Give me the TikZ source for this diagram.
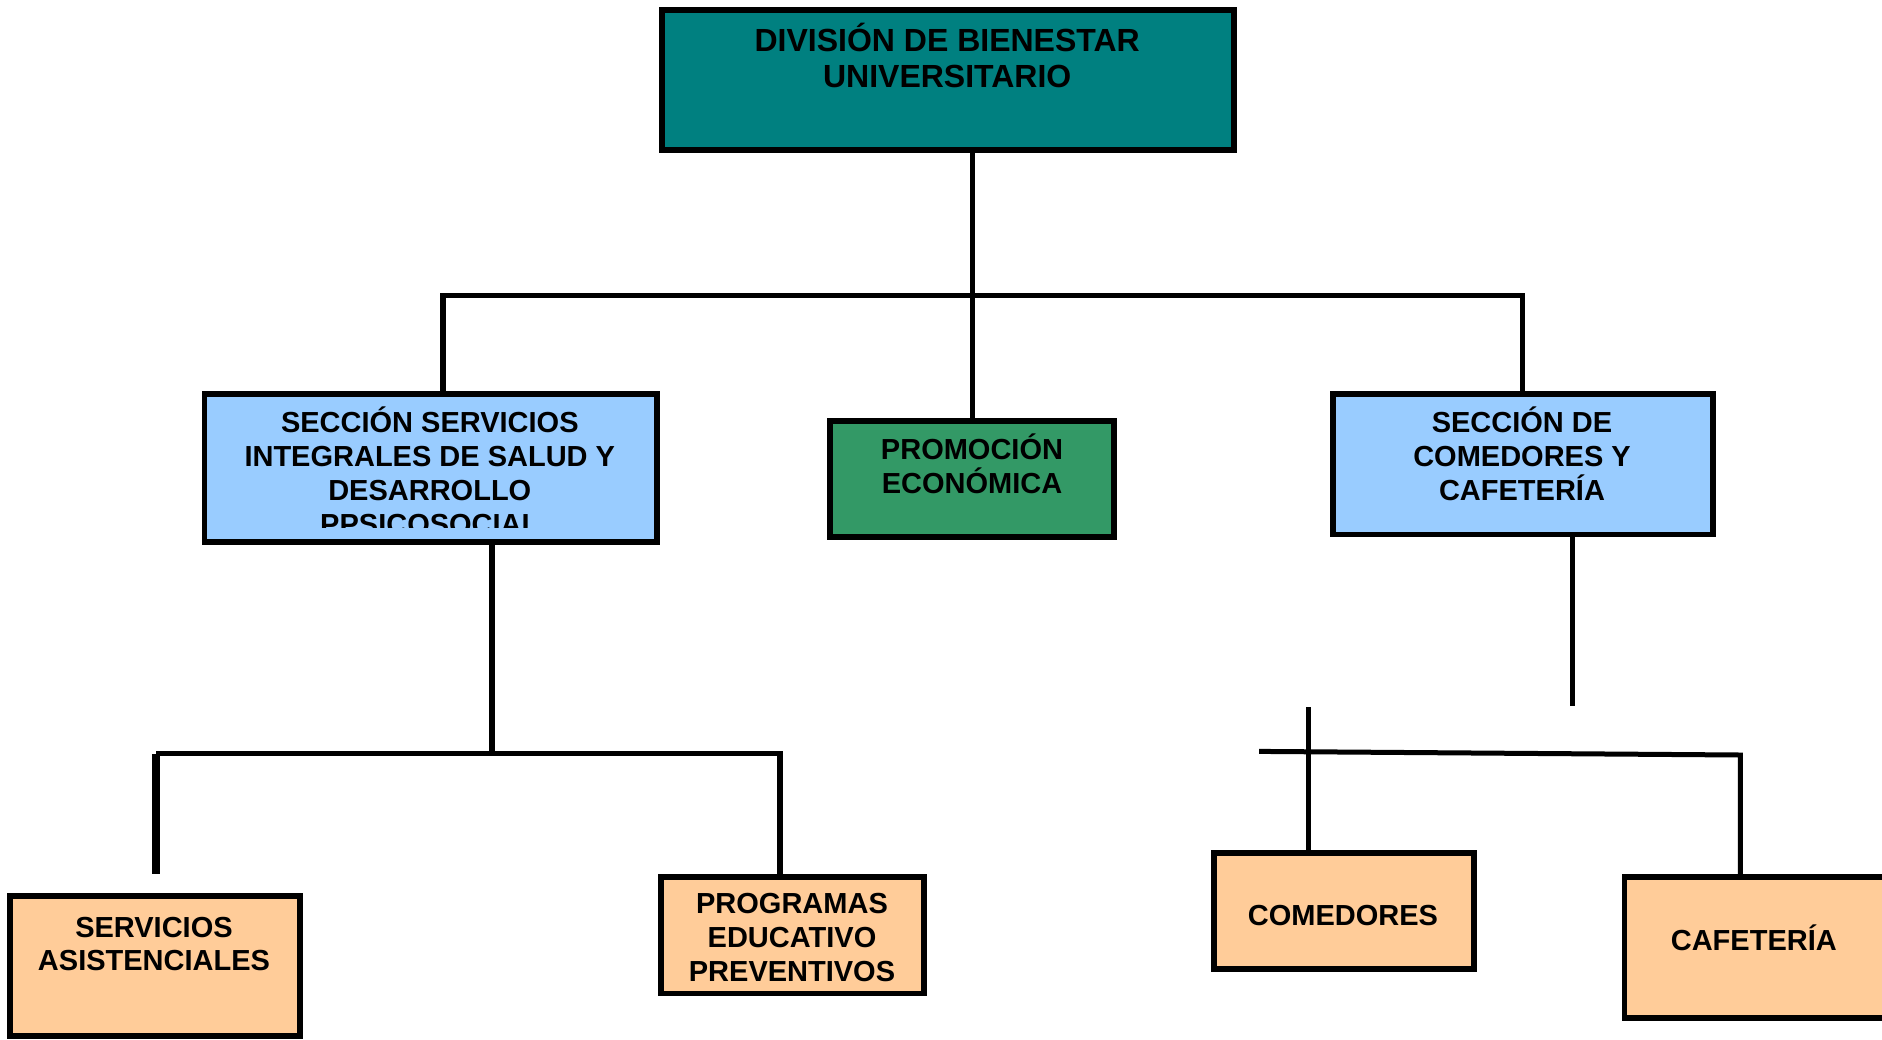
\documentclass[tikz,border=0pt]{standalone}
\usepackage{fontspec}
\setmainfont{Liberation Sans}
\definecolor{tealbox}{RGB}{0,128,128}
\definecolor{bluebox}{RGB}{153,204,255}
\definecolor{greenbox}{RGB}{51,153,102}
\definecolor{orangebox}{RGB}{255,204,153}
\begin{document}
\begin{tikzpicture}[x=1pt,y=-1pt,
  box/.style={draw=black, line width=2.9pt, anchor=north west, inner sep=0pt},
  txt/.style={align=center, inner sep=0pt, anchor=north, text=black,
              font=\bfseries\fontsize{14.5}{17}\selectfont},
  conn/.style={draw=black, line width=2.6pt},
  thinconn/.style={draw=black, line width=2.5pt},
  thickconn/.style={draw=black, line width=4pt}]
\useasboundingbox (0,0) rectangle (941,519.5);

% boxes
\node[box, fill=tealbox, minimum width=286pt, minimum height=70.1pt] (top) at (329.5,3.6) {};
\node[box, fill=bluebox, minimum width=226.2pt, minimum height=73.7pt] (sec1) at (100.8,195.7) {};
\node[box, fill=greenbox, minimum width=142.2pt, minimum height=58.1pt] (promo) at (413.5,208.9) {};
\node[box, fill=bluebox, minimum width=190.1pt, minimum height=70.1pt] (sec2) at (665,195.7) {};
\node[box, fill=orangebox, minimum width=145pt, minimum height=70pt] (serv) at (3.5,446.5) {};
\node[box, fill=orangebox, minimum width=131.5pt, minimum height=58.4pt] (prog) at (329,436.9) {};
\node[box, fill=orangebox, minimum width=130.2pt, minimum height=58.1pt] (com) at (605.5,424.9) {};
\node[box, fill=orangebox, minimum width=131.7pt, minimum height=70.7pt] (caf) at (810.8,436.9) {};

% texts
\node[txt, font=\bfseries\fontsize{16}{18}\selectfont] (top-t) at (473.6,9.6)
  {\rule{0pt}{16pt}DIVISIÓN DE BIENESTAR\\UNIVERSITARIO};
\begin{scope}
  \clip (100.8,195.7) rectangle (329.5,263.8);
  \node[txt] (sec1-t) at (214.9,201.9)
    {\rule{0pt}{14pt}SECCIÓN SERVICIOS\\INTEGRALES DE SALUD Y\\DESARROLLO\\PPSICOSOCIAL};
\end{scope}
\node[txt] (promo-t) at (486,215.7) {\rule{0pt}{14pt}PROMOCIÓN\\ECONÓMICA};
\node[txt] (sec2-t) at (761,201.9) {\rule{0pt}{14pt}SECCIÓN DE\\COMEDORES Y\\CAFETERÍA};
\node[txt, font=\bfseries\fontsize{14.5}{16.7}\selectfont] (serv-t) at (77,454.4)
  {\rule{0pt}{14pt}SERVICIOS\\ASISTENCIALES};
\node[txt, font=\bfseries\fontsize{14.5}{16.8}\selectfont] (prog-t) at (396,442.7)
  {\rule{0pt}{14pt}PROGRAMAS\\EDUCATIVO\\PREVENTIVOS};
\node[txt] (com-t) at (671.5,448.5) {\rule{0pt}{14pt}COMEDORES};
\node[txt] (caf-t) at (876.9,461.1) {\rule{0pt}{14pt}CAFETERÍA};

% connectors, upper level
\draw[conn] (top.south -| promo.north) -- (promo.north);
\coordinate (barL) at (221.5,147.7);
\coordinate (barR) at (761.3,147.7);
\draw[conn] (barL |- sec1.north) -- (barL) -- (barR) -- (barR |- sec2.north);

% connectors, left branch
\coordinate (d1) at (246,376.9);
\coordinate (hL) at (78,376.9);
\coordinate (hR) at (390,376.9);
\coordinate (sEnd) at (78,436.9);
\draw[conn] (d1 |- sec1.south) -- (d1);
\draw[conn] (hL) -- (hR) -- (hR |- prog.north);
\draw[thickconn] (hL) -- (sEnd);

% connectors, right branch
\coordinate (r1) at (786.2,352.9);
\coordinate (c1) at (654.2,353.5);
\coordinate (hs) at (629.6,375.7);
\coordinate (he) at (870.2,377.5);
\draw[conn, line width=2.8pt] (r1 |- sec2.south) -- (r1);
\draw[thinconn] (c1) -- (c1 |- com.north);
\draw[thinconn] (hs) -- (he) -- (he |- caf.north);
\end{tikzpicture}
\end{document}
